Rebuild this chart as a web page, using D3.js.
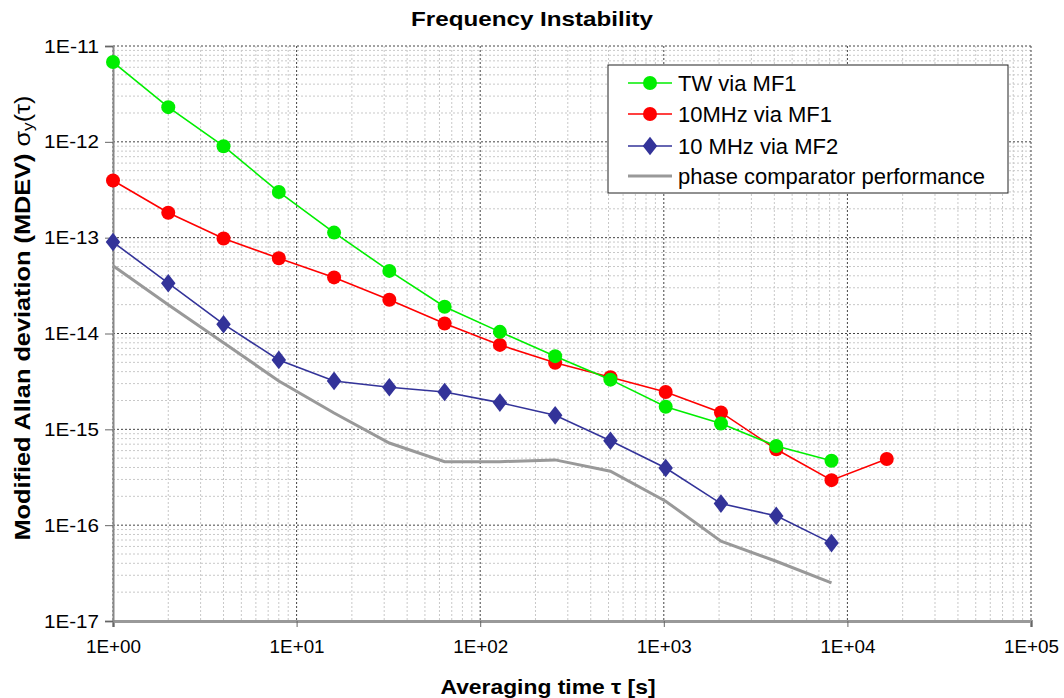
<!DOCTYPE html>
<html><head><meta charset="utf-8">
<script src="https://cdn.jsdelivr.net/npm/d3@7"></script>
<style>
body{margin:0;background:#fff;}
svg{display:block;font-family:"Liberation Sans",Arial,sans-serif;}
</style></head>
<body><svg id="c" width="1064" height="698"></svg>
<script>
const tau = [1,2,4,8,16,32,64,128,256,512,1024,2048,4096,8192];
const tauRed = [1,2,4,8,16,32,64,128,256,512,1024,2048,4096,8192,16384];
const twMF1 = [6.8e-12,2.3e-12,9.0e-13,3.0e-13,1.13e-13,4.5e-14,1.9e-14,1.04e-14,5.8e-15,3.3e-15,1.72e-15,1.15e-15,6.7e-16,4.7e-16];
const mhz10MF1 = [3.95e-13,1.82e-13,9.8e-14,6.1e-14,3.85e-14,2.25e-14,1.27e-14,7.6e-15,4.95e-15,3.5e-15,2.45e-15,1.5e-15,6.2e-16,2.95e-16,4.9e-16];
const mhz10MF2 = [9.0e-14,3.35e-14,1.25e-14,5.3e-15,3.2e-15,2.75e-15,2.45e-15,1.9e-15,1.4e-15,7.6e-16,3.95e-16,1.68e-16,1.25e-16,6.5e-17];
const phaseComp = [5.1e-14,2.0e-14,8.0e-15,3.2e-15,1.48e-15,7.2e-16,4.6e-16,4.6e-16,4.8e-16,3.65e-16,1.78e-16,6.8e-17,4.2e-17,2.5e-17];
const xTickLabels = ["1E+00","1E+01","1E+02","1E+03","1E+04","1E+05"];
const yTickLabels = ["1E-11","1E-12","1E-13","1E-14","1E-15","1E-16","1E-17"];
const seriesNames = ["TW via MF1","10MHz via MF1","10 MHz via MF2","phase comparator performance"];

const svg = d3.select("#c");
const L=113,R=1031,T=46,B=621;
const x = d3.scaleLog().domain([1,1e5]).range([L,R]);
const y = d3.scaleLog().domain([1e-17,1e-11]).range([B,T]);

// grid
const g = svg.append("g");
const minorX=[], minorY=[];
for(let e=0;e<5;e++) for(let m=2;m<=9;m++) minorX.push(m*Math.pow(10,e));
for(let e=-17;e<-11;e++) for(let m=2;m<=9;m++) minorY.push(m*Math.pow(10,e));
g.selectAll(".mx").data(minorX).enter().append("line")
 .attr("x1",d=>x(d)).attr("x2",d=>x(d)).attr("y1",T).attr("y2",B)
 .attr("stroke","#c8c8c8").attr("stroke-width",1).attr("stroke-dasharray","2,2");
g.selectAll(".my").data(minorY).enter().append("line")
 .attr("y1",d=>y(d)).attr("y2",d=>y(d)).attr("x1",L).attr("x2",R)
 .attr("stroke","#c8c8c8").attr("stroke-width",1).attr("stroke-dasharray","2,2");
const majorX=[1,10,100,1000,10000,100000], majorY=[1e-17,1e-16,1e-15,1e-14,1e-13,1e-12,1e-11];
g.selectAll(".Mx").data(majorX).enter().append("line")
 .attr("x1",d=>x(d)).attr("x2",d=>x(d)).attr("y1",T).attr("y2",B)
 .attr("stroke","#444").attr("stroke-width",1).attr("stroke-dasharray","2,2");
g.selectAll(".My").data(majorY).enter().append("line")
 .attr("y1",d=>y(d)).attr("y2",d=>y(d)).attr("x1",L).attr("x2",R)
 .attr("stroke","#444").attr("stroke-width",1).attr("stroke-dasharray","2,2");

// axes
const xAxis = d3.axisBottom(x).tickValues(majorX).tickFormat((d,i)=>xTickLabels[i]).tickSize(6).tickPadding(13);
const yAxis = d3.axisLeft(y).tickValues(majorY.slice().reverse()).tickFormat((d,i)=>yTickLabels[i]).tickSize(8).tickPadding(6);
const gx = svg.append("g").attr("transform",`translate(0,${B})`).call(xAxis);
const gy = svg.append("g").attr("transform",`translate(${L},0)`).call(yAxis);
[gx,gy].forEach(a=>{
  a.select(".domain").attr("stroke","#888").attr("stroke-width",2);
  a.selectAll(".tick line").attr("stroke","#666");
  a.selectAll(".tick text").attr("font-family","'Liberation Sans',Arial,sans-serif").attr("font-size","19px").attr("fill","#000")
   .attr("textLength",55).attr("lengthAdjust","spacingAndGlyphs");
});
gx.select(".domain").attr("stroke-width",3).attr("stroke","#999");

// series
const line = d3.line().x(d=>x(d[0])).y(d=>y(d[1]));
function pairs(t,v){return t.map((d,i)=>[d,v[i]]);}
const gray = pairs(tau,phaseComp);
svg.append("path").datum(gray).attr("d",line).attr("fill","none").attr("stroke","#999").attr("stroke-width",3);
const blue = pairs(tau,mhz10MF2);
svg.append("path").datum(blue).attr("d",line).attr("fill","none").attr("stroke","#333399").attr("stroke-width",1.6);
const diamond = d3.symbol().type(d3.symbolDiamond).size(100);
svg.selectAll(".bd").data(blue).enter().append("path").attr("d",diamond)
 .attr("transform",d=>`translate(${x(d[0])},${y(d[1])}) scale(1.35,1)`).attr("fill","#333399");
const red = pairs(tauRed,mhz10MF1);
svg.append("path").datum(red).attr("d",line).attr("fill","none").attr("stroke","#ff0000").attr("stroke-width",1.6);
svg.selectAll(".rd").data(red).enter().append("circle").attr("cx",d=>x(d[0])).attr("cy",d=>y(d[1])).attr("r",7).attr("fill","#ff0000");
const green = pairs(tau,twMF1);
svg.append("path").datum(green).attr("d",line).attr("fill","none").attr("stroke","#00ee00").attr("stroke-width",1.6);
svg.selectAll(".gd").data(green).enter().append("circle").attr("cx",d=>x(d[0])).attr("cy",d=>y(d[1])).attr("r",7).attr("fill","#00ee00");

// legend
const lg = svg.append("g");
lg.append("rect").attr("x",608).attr("y",65).attr("width",400).attr("height",128).attr("fill","#fff").attr("stroke","#222").attr("stroke-width",1);
const colors=["#00ee00","#ff0000","#333399","#999"];
const rowsY=[83,114,146,176];
seriesNames.forEach((n,i)=>{
  const yy=rowsY[i];
  lg.append("line").attr("x1",628).attr("x2",672).attr("y1",yy).attr("y2",yy).attr("stroke",colors[i]).attr("stroke-width",i===3?3:1.6);
  if(i<2) lg.append("circle").attr("cx",650).attr("cy",yy).attr("r",7).attr("fill",colors[i]);
  if(i===2) lg.append("path").attr("d",diamond).attr("transform",`translate(650,${yy}) scale(1.35,1)`).attr("fill",colors[i]);
  lg.append("text").attr("x",678).attr("y",yy).attr("dy","0.35em").attr("font-size","22px").text(n);
});

// titles
svg.append("text").attr("x",532).attr("y",26).attr("text-anchor","middle").attr("font-weight","bold").attr("font-size","21px")
 .attr("textLength",242).attr("lengthAdjust","spacingAndGlyphs").text("Frequency Instability");
svg.append("text").attr("x",548).attr("y",694).attr("text-anchor","middle").attr("font-weight","bold").attr("font-size","21px")
 .attr("textLength",215).attr("lengthAdjust","spacingAndGlyphs").text("Averaging time τ [s]");
const yt = svg.append("text").attr("transform","translate(30,318) rotate(-90)").attr("text-anchor","middle").attr("font-size","22px")
 .attr("textLength",445).attr("lengthAdjust","spacingAndGlyphs");
yt.append("tspan").attr("font-weight","bold").text("Modified Allan deviation (MDEV) ");
yt.append("tspan").text(" σ");
yt.append("tspan").attr("font-size","15px").attr("dy","3").text("y");
yt.append("tspan").attr("dy","-3").text("(τ)");
</script></body></html>
